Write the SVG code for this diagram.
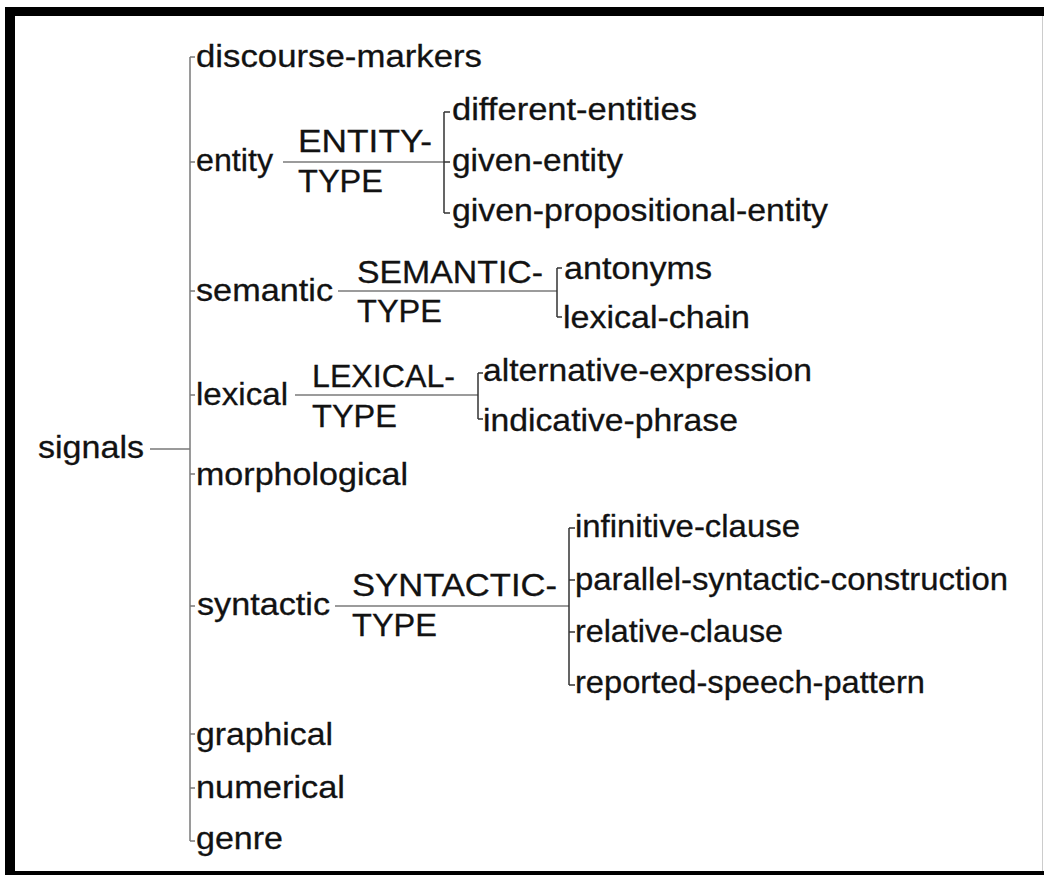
<svg xmlns="http://www.w3.org/2000/svg" width="1044" height="875" viewBox="0 0 1044 875">
<style>
text{font-family:"Liberation Sans",Arial,sans-serif;font-size:31.5px;fill:#121212;stroke:#121212;stroke-width:0.3}
.c{stroke:#7a7a7a;stroke-width:1.5;fill:none}
.b{stroke:#333;stroke-width:1.5;fill:none}
</style>
<rect x="0" y="0" width="1044" height="875" fill="#fff"/>
<g id="frame">
<rect x="5" y="7" width="1039" height="9" fill="#000"/>
<rect x="5" y="7" width="10" height="868" fill="#000"/>
<rect x="5" y="871" width="1039" height="4" fill="#000"/>
<line x1="1042.5" y1="16" x2="1042.5" y2="871" stroke="#ccc" stroke-width="1"/>
</g>
<g id="connectors">
<path class="c" d="M150 449H190M190 57V841M190 57H195M190 162H195M190 291H195M190 395H195M190 474H195M190 606H195M190 734H195M190 788H195M190 841H195"/>
<path class="c" d="M283 162H444"/>
<path class="b" d="M444 112V213M444 112H450M444 162H450M444 213H450"/>
<path class="c" d="M338 291H557"/>
<path class="b" d="M557 268V317M557 268H562M557 317H562"/>
<path class="c" d="M295 395H478"/>
<path class="b" d="M478 373V419M478 373H483M478 419H483"/>
<path class="c" d="M335 606H569"/>
<path class="b" d="M569 528V685M569 528H575M569 580H575M569 632H575M569 685H575"/>
</g>
<g id="signals"><text x="38" y="458" textLength="106" lengthAdjust="spacingAndGlyphs">signals</text></g>
<g id="discourse-markers"><text x="196" y="67" textLength="286" lengthAdjust="spacingAndGlyphs">discourse-markers</text></g>
<g id="entity"><text x="196" y="171" textLength="77" lengthAdjust="spacingAndGlyphs">entity</text></g>
<g id="entity-type"><text x="298" y="152" textLength="134" lengthAdjust="spacingAndGlyphs">ENTITY-</text><text x="298" y="192" textLength="85" lengthAdjust="spacingAndGlyphs">TYPE</text></g>
<g id="different-entities"><text x="452" y="120" textLength="245" lengthAdjust="spacingAndGlyphs">different-entities</text></g>
<g id="given-entity"><text x="452" y="171" textLength="171" lengthAdjust="spacingAndGlyphs">given-entity</text></g>
<g id="given-propositional-entity"><text x="452" y="221" textLength="376" lengthAdjust="spacingAndGlyphs">given-propositional-entity</text></g>
<g id="semantic"><text x="196" y="301" textLength="137" lengthAdjust="spacingAndGlyphs">semantic</text></g>
<g id="semantic-type"><text x="357" y="283" textLength="186" lengthAdjust="spacingAndGlyphs">SEMANTIC-</text><text x="357" y="322" textLength="85" lengthAdjust="spacingAndGlyphs">TYPE</text></g>
<g id="antonyms"><text x="564" y="279" textLength="148" lengthAdjust="spacingAndGlyphs">antonyms</text></g>
<g id="lexical-chain"><text x="563" y="328" textLength="187" lengthAdjust="spacingAndGlyphs">lexical-chain</text></g>
<g id="lexical"><text x="196" y="405" textLength="92" lengthAdjust="spacingAndGlyphs">lexical</text></g>
<g id="lexical-type"><text x="312" y="387" textLength="143" lengthAdjust="spacingAndGlyphs">LEXICAL-</text><text x="312" y="427" textLength="85" lengthAdjust="spacingAndGlyphs">TYPE</text></g>
<g id="alternative-expression"><text x="483" y="381" textLength="329" lengthAdjust="spacingAndGlyphs">alternative-expression</text></g>
<g id="indicative-phrase"><text x="483" y="431" textLength="255" lengthAdjust="spacingAndGlyphs">indicative-phrase</text></g>
<g id="morphological"><text x="196" y="485" textLength="212" lengthAdjust="spacingAndGlyphs">morphological</text></g>
<g id="syntactic"><text x="197" y="615" textLength="133" lengthAdjust="spacingAndGlyphs">syntactic</text></g>
<g id="syntactic-type"><text x="352" y="596" textLength="205" lengthAdjust="spacingAndGlyphs">SYNTACTIC-</text><text x="352" y="636" textLength="85" lengthAdjust="spacingAndGlyphs">TYPE</text></g>
<g id="infinitive-clause"><text x="575" y="537" textLength="225" lengthAdjust="spacingAndGlyphs">infinitive-clause</text></g>
<g id="parallel-syntactic-construction"><text x="575" y="590" textLength="433" lengthAdjust="spacingAndGlyphs">parallel-syntactic-construction</text></g>
<g id="relative-clause"><text x="575" y="642" textLength="208" lengthAdjust="spacingAndGlyphs">relative-clause</text></g>
<g id="reported-speech-pattern"><text x="575" y="693" textLength="350" lengthAdjust="spacingAndGlyphs">reported-speech-pattern</text></g>
<g id="graphical"><text x="196" y="745" textLength="137" lengthAdjust="spacingAndGlyphs">graphical</text></g>
<g id="numerical"><text x="196" y="798" textLength="149" lengthAdjust="spacingAndGlyphs">numerical</text></g>
<g id="genre"><text x="196" y="849" textLength="87" lengthAdjust="spacingAndGlyphs">genre</text></g>
</svg>
